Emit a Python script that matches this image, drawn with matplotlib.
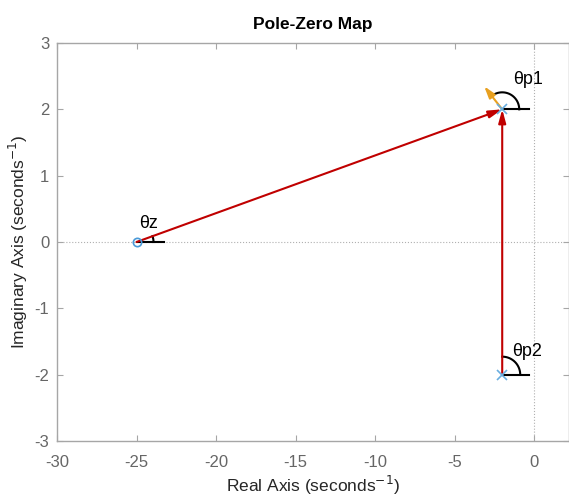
import numpy as np
import matplotlib
matplotlib.use("Agg")
import matplotlib.pyplot as plt

plt.rcParams['font.family'] = ['Liberation Sans', 'DejaVu Sans']
plt.rcParams['axes.unicode_minus'] = False

# Data
zero_re = [-25.0]
zero_im = [0.0]
pole_re = [-2.0, -2.0]
pole_im = [2.0, -2.0]
x_ticks = [-30, -25, -20, -15, -10, -5, 0]
y_ticks = [-3, -2, -1, 0, 1, 2, 3]
xlim = (-30, 2.2)
ylim = (-3, 3)
depart_px = (-18, 23)  # orange departure-direction arrow, in display pixels

W, H = 569, 499
fig = plt.figure(figsize=(W / 100, H / 100), dpi=100)
ax = fig.add_axes([57 / W, (H - 441) / H, 1 - 57 / W, (441 - 43) / H])
ax.set_xlim(*xlim)
ax.set_ylim(*ylim)

# pixel scales
ax_w_px = W * ax.get_position().width
ax_h_px = H * ax.get_position().height
sx = ax_w_px / (xlim[1] - xlim[0])
sy = ax_h_px / (ylim[1] - ylim[0])

for s in ax.spines.values():
    s.set_color('#a6a6a6')
    s.set_linewidth(1.0)

ax.set_xticks(x_ticks)
ax.set_yticks(y_ticks)
ax.tick_params(direction='in', top=True, right=True, length=4, color='#a6a6a6',
               labelsize=12, labelcolor='#666666')
ax.tick_params(axis='x', pad=10)
ax.tick_params(axis='y', pad=5.5)

ax.axhline(0, color='#b0b0b0', lw=0.8, ls=':', zorder=0)
ax.axvline(0, color='#b0b0b0', lw=0.8, ls=':', zorder=0)

red = '#c00000'
# vectors to pole p1
ax.annotate('', xy=(pole_re[0], pole_im[0]), xytext=(zero_re[0], zero_im[0]),
            arrowprops=dict(arrowstyle='-|>,head_length=0.8,head_width=0.22', color=red, lw=1.5,
                            shrinkA=0, shrinkB=0))
ax.annotate('', xy=(pole_re[0], pole_im[0]), xytext=(pole_re[1], pole_im[1]),
            arrowprops=dict(arrowstyle='-|>,head_length=0.8,head_width=0.22', color=red, lw=1.5,
                            shrinkA=0, shrinkB=0))
# departure direction
ax.annotate('', xy=(pole_re[0] + depart_px[0] / sx, pole_im[0] + depart_px[1] / sy),
            xytext=(pole_re[0], pole_im[0]),
            arrowprops=dict(arrowstyle='-|>,head_length=0.7,head_width=0.22', color='#e8a020', lw=1.5,
                            shrinkA=0, shrinkB=0))

ax.plot(zero_re, zero_im, 'o', mfc='none', mec='#4a9ad8', ms=6, mew=1.2, zorder=5)
ax.plot(pole_re, pole_im, 'x', color='#6aaee0', ms=7, mew=1.2, zorder=5)


def angle_mark(x0, y0, a0, a1, r_px, line_px):
    t = np.linspace(np.radians(a0), np.radians(a1), 60)
    ax.plot(x0 + r_px * np.cos(t) / sx, y0 + r_px * np.sin(t) / sy, color='k', lw=1.5)
    ax.plot([x0, x0 + line_px / sx], [y0, y0], color='k', lw=1.5)


ang_z = np.degrees(np.arctan2((pole_im[0] - zero_im[0]) * sy, (pole_re[0] - zero_re[0]) * sx))
angle_mark(zero_re[0], zero_im[0], 0, ang_z, 17, 27)
angle_mark(pole_re[0], pole_im[0], 0, np.degrees(np.arctan2(depart_px[1], depart_px[0])), 17, 27)
angle_mark(pole_re[1], pole_im[1], 0, 90, 18, 27)

ax.text(zero_re[0] + 12 / sx, zero_im[0] + 19 / sy, 'θz', fontsize=13, ha='center', va='center')
ax.text(pole_re[0] + 26 / sx, pole_im[0] + 30 / sy, 'θp1', fontsize=13, ha='center', va='center')
ax.text(pole_re[1] + 25 / sx, pole_im[1] + 23 / sy, 'θp2', fontsize=13, ha='center', va='center')

ax.set_title('Pole-Zero Map', fontsize=12.5, fontweight='bold', pad=10)
ax.set_xlabel('Real Axis (seconds$^{-1}$)', fontsize=12.5, color='#262626', labelpad=3)
ax.set_ylabel('Imaginary Axis (seconds$^{-1}$)', fontsize=12.5, color='#262626', labelpad=3)

fig.savefig('out.png', dpi=100)
